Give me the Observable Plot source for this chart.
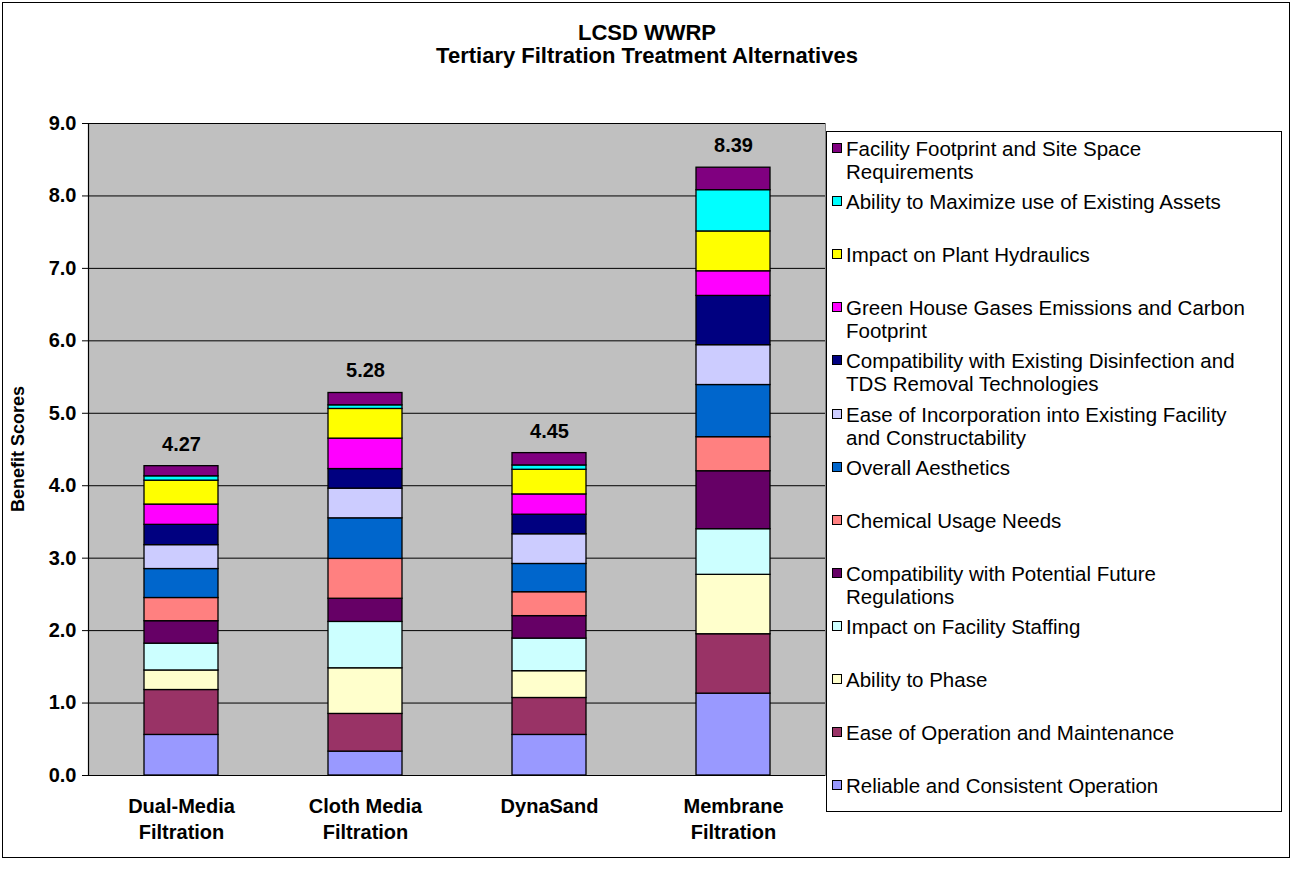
<!DOCTYPE html>
<html>
<head>
<meta charset="utf-8">
<script src="https://cdn.jsdelivr.net/npm/d3@7"></script>
<script src="https://cdn.jsdelivr.net/npm/@observablehq/plot@0.6"></script>
<style>
  html, body { margin: 0; padding: 0; background: #fff; }
  body { width: 1294px; height: 871px; position: relative; overflow: hidden;
         font-family: "Liberation Sans", Arial, sans-serif; }
  #border { position: absolute; left: 2px; top: 2px; width: 1288px; height: 856px;
            border: 1px solid #000; box-sizing: border-box; }
  #chart { position: absolute; left: 0; top: 0; }
  #title { position: absolute; left: 0; top: 21px; width: 1294px; text-align: center;
           font-weight: bold; font-size: 22px; line-height: 23px; color: #000; }
  #ytitle { position: absolute; left: -82px; top: 437px; width: 200px; text-align: center;
            font-weight: bold; font-size: 18px; line-height: 24px; transform: rotate(-90deg); }
  #legend { position: absolute; left: 826px; top: 131px; width: 456px; height: 681px;
            border: 1px solid #000; box-sizing: border-box; background: #fff; }
  .item { position: absolute; left: 5px; font-size: 20.5px; line-height: 23px; white-space: pre; color: #000; }
  .sw { position: absolute; left: 0; top: 6px; width: 10px; height: 10px; border: 1px solid #000; box-sizing: border-box; }
  .lab { margin-left: 14px; }
</style>
</head>
<body>
<div id="border"></div>
<div id="chart"></div>
<div id="title">LCSD WWRP<br>Tertiary Filtration Treatment Alternatives</div>
<div id="ytitle">Benefit Scores</div>
<div id="legend"></div>
<script>
// ---- data ----
const filters = ["Dual-Media Filtration", "Cloth Media Filtration", "DynaSand", "Membrane Filtration"];
const filterLabels = ["Dual-Media\nFiltration", "Cloth Media\nFiltration", "DynaSand", "Membrane\nFiltration"];

// stacking order: bottom to top
const criteria = [
  "Reliable and Consistent Operation",
  "Ease of Operation and Maintenance",
  "Ability to Phase",
  "Impact on Facility Staffing",
  "Compatibility with Potential Future Regulations",
  "Chemical Usage Needs",
  "Overall Aesthetics",
  "Ease of Incorporation into Existing Facility and Constructability",
  "Compatibility with Existing Disinfection and TDS Removal Technologies",
  "Green House Gases Emissions and Carbon Footprint",
  "Impact on Plant Hydraulics",
  "Ability to Maximize use of Existing Assets",
  "Facility Footprint and Site Space Requirements"
];
const legendLabels = [
  "Reliable and Consistent Operation",
  "Ease of Operation and Maintenance",
  "Ability to Phase",
  "Impact on Facility Staffing",
  "Compatibility with Potential Future\nRegulations",
  "Chemical Usage Needs",
  "Overall Aesthetics",
  "Ease of Incorporation into Existing Facility\nand Constructability",
  "Compatibility with Existing Disinfection and\nTDS Removal Technologies",
  "Green House Gases Emissions and Carbon\nFootprint",
  "Impact on Plant Hydraulics",
  "Ability to Maximize use of Existing Assets",
  "Facility Footprint and Site Space\nRequirements"
];
const colors = ["#9999FF", "#993366", "#FFFFCC", "#CCFFFF", "#660066", "#FF8080", "#0066CC",
                "#CCCCFF", "#000080", "#FF00FF", "#FFFF00", "#00FFFF", "#800080"];

// scores per filter, in criteria order
const dualMedia  = [0.56, 0.62, 0.27, 0.37, 0.31, 0.32, 0.40, 0.33, 0.28, 0.28, 0.33, 0.06, 0.14];
const clothMedia = [0.33, 0.52, 0.63, 0.64, 0.32, 0.55, 0.56, 0.41, 0.27, 0.42, 0.41, 0.05, 0.17];
const dynaSand   = [0.56, 0.51, 0.37, 0.45, 0.31, 0.33, 0.39, 0.41, 0.27, 0.28, 0.34, 0.06, 0.17];
const membrane   = [1.13, 0.82, 0.82, 0.63, 0.80, 0.47, 0.72, 0.55, 0.68, 0.34, 0.55, 0.57, 0.31];
const totals = [4.27, 5.28, 4.45, 8.39];
const yTicks = [0, 1, 2, 3, 4, 5, 6, 7, 8, 9];

// ---- build ----
const series = [dualMedia, clothMedia, dynaSand, membrane];
const rows = [];
criteria.forEach((c, ci) => {
  filters.forEach((f, fi) => rows.push({filter: f, criterion: c, score: series[fi][ci]}));
});
const totalRows = filters.map((f, i) => ({filter: f, total: totals[i]}));

const chart = Plot.plot({
  width: 1294,
  height: 871,
  marginLeft: 88,
  marginRight: 469,
  marginTop: 123,
  marginBottom: 96,
  style: {fontFamily: "'Liberation Sans', Arial, sans-serif", fontSize: "20px", fontWeight: "bold", color: "#000", background: "transparent"},
  x: {domain: filters, paddingInner: 0.6, paddingOuter: 0.3, label: null},
  y: {domain: [0, 9], label: null},
  color: {domain: criteria, range: colors, legend: false},
  marks: [
    Plot.frame({fill: "#C0C0C0", stroke: "#808080"}),
    Plot.ruleY(yTicks.slice(1), {stroke: "#000", strokeWidth: 1}),
    Plot.barY(rows, {x: "filter", y: "score", fill: "criterion", stroke: "#000", strokeWidth: 1.3}),
    Plot.text(totalRows, {x: "filter", y: "total", text: d => d.total.toFixed(2), dy: -22, fontWeight: "bold", fontSize: 20}),
    Plot.axisY({ticks: yTicks, tickFormat: d3.format(".1f"), tickSize: 6, tickPadding: 6, label: null, stroke: "#000"}),
    Plot.axisX({tickSize: 0, tickPadding: 19, label: null, lineHeight: 1.3,
                tickFormat: d => filterLabels[filters.indexOf(d)]}),
    Plot.ruleY([0], {stroke: "#000", strokeWidth: 1.2}),
    Plot.frame({anchor: "left", stroke: "#000", strokeWidth: 1.2})
  ]
});
document.getElementById("chart").appendChild(chart);

// ---- legend ----
const legend = document.getElementById("legend");
const order = criteria.map((c, i) => i).reverse();
order.forEach((ci, k) => {
  const item = document.createElement("div");
  item.className = "item";
  item.style.top = (5 + k * 53.1) + "px";
  const sw = document.createElement("span");
  sw.className = "sw";
  sw.style.background = colors[ci];
  const lab = document.createElement("div");
  lab.className = "lab";
  lab.textContent = legendLabels[ci];
  item.appendChild(sw);
  item.appendChild(lab);
  legend.appendChild(item);
});
</script>
</body>
</html>
